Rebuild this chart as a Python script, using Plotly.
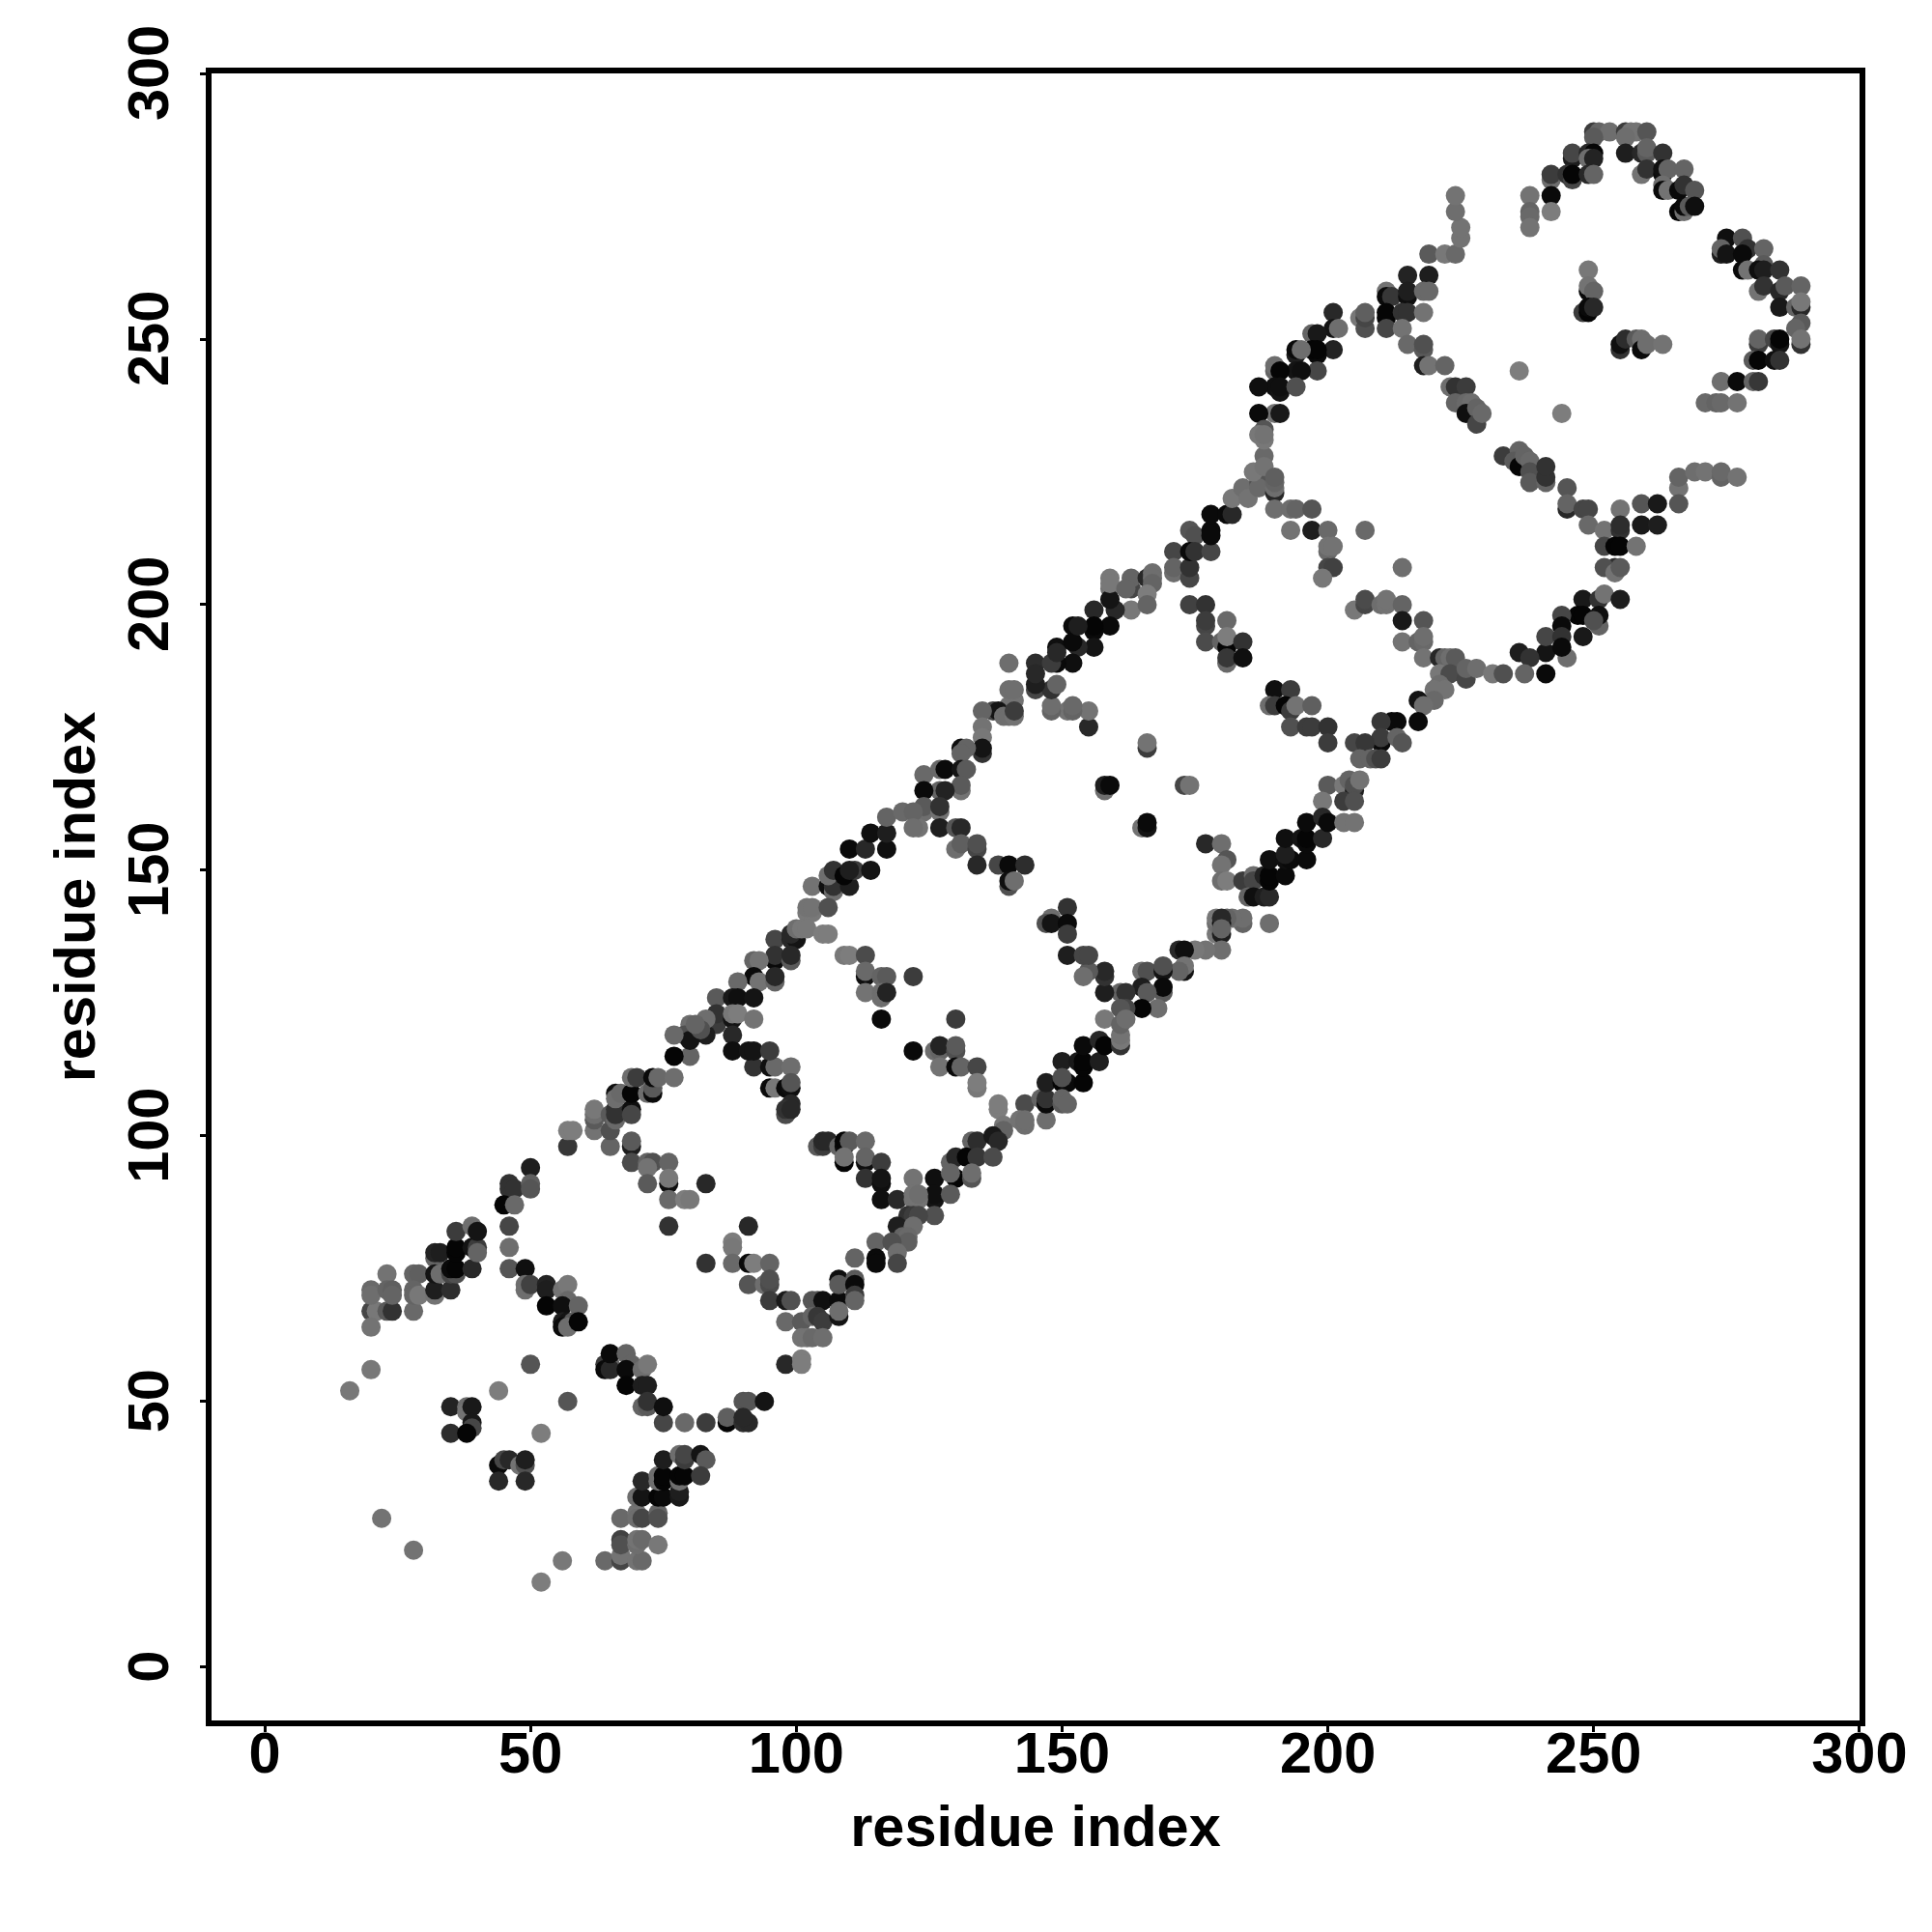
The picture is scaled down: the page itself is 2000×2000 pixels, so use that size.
import plotly.graph_objects as go

# Residue contacts: each line holds ten values, the three lists run in parallel.
residue_i = [
16,20,20,21,23,24,20,20,20,23,
23,24,24,28,28,29,28,28,29,32,
32,35,32,32,33,32,33,35,36,35,
36,36,36,39,39,40,40,36,39,40,
46,46,49,49,49,50,53,53,53,56,
57,57,56,59,56,57,58,56,57,59,
83,50,44,35,38,38,39,39,39,35,
38,52,57,44,45,46,48,49,49,44,
49,22,28,52,56,64,67,67,70,71,
67,67,70,70,71,74,67,70,70,71,
74,74,70,71,71,74,75,74,74,75,
75,75,78,78,78,78,79,78,79,79,
82,83,82,75,79,83,65,64,64,65,
65,68,69,68,71,72,68,71,72,71,
72,72,75,50,46,46,47,50,50,45,
47,46,57,57,58,62,62,62,62,65,
65,65,66,66,66,66,66,67,69,69,
69,69,70,72,73,73,73,74,77,69,
69,69,72,73,76,72,72,76,76,76,
79,80,83,76,91,88,88,88,91,92,
95,91,94,95,95,95,98,99,98,101,
103,104,105,103,104,105,108,108,108,108,
108,111,111,111,111,111,101,102,103,105,
98,101,101,87,87,90,91,94,90,91,
90,92,95,96,99,95,96,98,99,99,
99,98,98,99,104,105,105,106,108,109,
109,110,109,109,113,113,113,113,103,106,
107,107,106,107,110,109,111,114,102,103,
102,103,106,96,99,100,99,100,101,102,
105,106,96,96,99,99,92,93,92,93,
96,96,89,85,88,89,92,85,85,83,
83,80,80,88,88,89,92,88,88,91,
92,95,80,77,79,80,77,82,81,109,
110,113,113,113,116,117,113,116,116,117,
122,116,130,122,126,127,127,130,130,127,
130,131,134,134,134,138,138,143,139,142,
143,143,138,139,133,134,137,138,147,146,
147,147,147,150,150,151,150,150,150,151,
154,153,154,154,154,157,157,158,161,161,
161,158,116,116,116,122,116,119,126,129,
130,130,129,132,134,137,133,133,126,126,
129,122,123,122,123,126,121,122,123,119,
122,120,121,121,115,118,115,119,115,119,
140,141,140,141,137,138,135,139,140,141,
141,135,135,135,135,131,132,131,124,127,
128,131,132,131,131,127,128,124,124,124,
127,127,123,127,130,131,130,131,134,134,
134,138,140,143,140,140,141,155,155,151,
152,152,148,148,145,148,145,149,166,166,
158,158,159,173,174,165,166,166,177,180,
181,180,180,181,184,186,186,185,186,188,
189,188,189,189,189,192,192,193,196,192,
192,195,196,196,199,196,189,184,184,182,
181,179,179,179,180,180,180,180,180,177,
175,172,173,173,173,172,165,166,169,169,
169,169,165,166,168,165,161,162,158,158,
158,155,154,151,148,147,148,151,151,151,
154,155,162,161,161,162,159,159,163,163,
166,167,167,167,166,163,166,160,159,159,
171,171,171,174,174,174,175,174,175,178,
178,178,178,181,182,182,184,185,187,187,
187,186,188,188,188,190,190,190,190,190,
193,194,197,193,197,200,207,200,200,201,
200,201,199,214,174,177,177,177,181,177,
180,181,181,184,181,181,184,205,207,207,
210,211,211,214,214,218,214,217,218,218,
218,221,222,223,224,221,223,226,226,228,
231,221,220,222,220,217,218,217,213,212,
210,210,210,213,214,205,207,206,208,209,
210,200,203,204,205,205,206,199,203,205,
199,200,203,205,190,193,189,190,192,193,
194,197,193,196,197,200,200,
219,222,224,225,225,224,224,215,219,211,
211,212,215,215,218,219,211,211,211,214,
215,218,214,206,207,207,207,201,201,202,
197,198,201,198,197,198,194,194,195,198,
194,195,190,190,191,190,191,191,194,187,
190,191,187,188,187,188,215,218,218,218,
219,222,223,224,226,224,226,227,226,228,
228,229,236,244,249,249,249,250,248,249,
249,250,255,255,256,258,259,259,260,263,
233,236,235,236,237,238,238,238,241,241,
241,245,245,245,248,249,249,252,255,259,
255,255,259,252,254,255,258,254,252,254,
255,248,251,252,255,251,251,247,248,244,
244,236,241,241,244,245,238,244,248,250,
233,237,241,
250,251,253,256,257,258,260,
250,256,246,246,249,250,249,250,256,259,
260,260,263,242,242,245,246,246,249,250,
259,260,263,263,264,267,263,263,264,266,
267,269,266,267,267,268,269,238,238,238,
238,242,242,275,278,274,274,275,279,278,
282,278,279,282,281,282,285,281,282,285,
286,289,285,288,289,289,289,288,289,289,
281,281,284,285,285,280,281,284,285,274,
277,280,281,271,273,274,277,266,266,269,
271,274,274,277,266,262,262,
110,110,113,114,117,117,117,120,122,122,
156,156,156,152,156,153,149,152,149,145,
140,152,153,159,148,149,145,162,
]
residue_j = [
52,56,67,67,67,67,64,71,70,74,
71,71,70,67,74,74,71,70,70,70,
71,71,77,78,78,74,74,74,74,75,
75,78,79,75,79,79,78,82,83,82,
79,75,75,72,71,72,72,71,68,71,
72,69,68,68,65,65,65,64,64,65,
76,57,52,49,49,48,49,46,45,44,
44,44,50,38,39,39,38,38,39,35,
35,28,22,16,20,20,20,21,20,20,
24,23,23,24,24,23,28,29,28,28,
29,28,32,32,35,32,32,35,36,35,
36,39,32,33,35,36,36,40,39,40,
40,39,36,46,46,46,57,57,56,56,
59,59,57,56,56,57,53,53,53,49,
49,50,49,94,91,90,90,91,90,87,
87,83,98,101,101,101,103,104,105,98,
101,104,103,105,104,108,107,108,105,104,
108,111,111,108,108,109,111,111,111,98,
99,95,95,95,95,94,91,91,92,88,
88,88,91,83,83,80,79,76,76,76,
76,72,72,72,73,69,69,69,65,65,
69,69,69,66,66,65,69,73,72,66,
67,77,73,72,70,69,62,62,62,62,
57,58,57,46,47,50,50,50,46,46,
47,113,113,113,113,109,109,109,109,110,
106,104,105,105,98,98,99,99,98,98,
99,99,95,96,99,95,96,92,147,147,
146,147,149,150,147,149,150,150,142,142,
143,143,143,137,137,137,138,139,139,139,
138,138,133,134,133,134,133,133,130,129,
129,130,129,126,126,126,126,121,123,119,
122,119,121,122,123,123,122,119,116,116,
116,116,115,115,119,118,119,120,121,134,
134,134,130,131,130,130,127,127,126,127,
130,122,122,116,116,116,117,116,117,113,
113,113,113,109,110,105,106,106,102,103,
102,103,100,101,99,99,100,99,103,107,
106,107,110,114,110,110,111,106,107,106,
110,114,113,114,117,114,118,117,117,118,
119,122,95,91,92,92,88,88,92,95,
96,92,93,96,96,96,92,93,88,89,
89,88,88,89,89,85,85,85,85,83,
83,81,81,80,80,80,77,78,76,76,
181,182,184,184,180,180,180,179,179,179,
180,177,175,172,173,173,173,172,168,169,
169,169,169,165,166,165,165,165,161,162,
161,162,158,158,158,158,154,155,154,155,
151,151,151,151,147,148,148,177,180,180,
180,181,180,181,184,184,185,185,173,174,
165,166,166,166,166,158,158,159,155,155,
152,151,148,148,148,149,148,145,145,145,
145,149,148,149,152,149,152,152,152,153,
156,156,155,156,156,159,140,140,141,141,
141,138,140,141,138,140,141,139,135,135,
135,135,135,131,132,131,131,131,131,132,
127,128,128,127,124,124,127,127,127,130,
131,131,130,143,141,140,140,140,138,134,
134,134,124,124,121,122,205,203,203,205,
205,206,205,204,202,199,200,199,201,196,
210,206,207,205,207,214,213,210,210,210,
214,213,217,217,217,220,222,220,223,224,
222,225,228,226,231,221,222,223,224,218,
218,218,218,214,214,214,214,210,211,211,
207,207,205,207,200,200,196,197,197,193,
193,192,194,193,189,190,190,199,200,201,
200,200,201,200,197,197,193,193,193,194,
190,190,190,190,190,187,187,186,188,188,
187,185,184,184,182,182,181,178,178,178,
178,174,175,175,174,174,174,171,171,171,
171,166,166,167,165,166,167,163,163,163,
160,159,159,159,184,184,181,181,181,180,
181,181,177,177,177,177,174,
266,266,266,269,271,274,277,262,262,259,
258,258,258,259,259,259,254,255,252,255,
255,255,252,254,252,254,255,255,252,252,
251,251,248,247,248,248,247,248,248,244,
244,244,244,245,244,241,240,241,241,241,
236,236,236,233,232,232,249,248,249,245,
245,245,241,241,241,238,238,238,236,237,
234,236,244,236,263,259,260,259,255,255,
256,256,248,249,250,250,250,248,249,249,
228,229,227,226,228,227,225,223,223,224,
226,222,218,219,218,218,215,214,218,219,
214,215,215,211,211,211,211,207,207,206,
207,201,201,202,201,196,198,198,198,198,
196,191,191,194,194,190,190,192,194,197,
187,187,187,
289,289,289,289,289,289,289,
288,288,284,285,285,285,284,284,285,285,
285,286,285,280,281,281,280,281,281,281,
281,282,281,282,282,282,279,278,278,278,
279,278,274,274,275,275,275,277,274,273,
271,277,274,269,269,266,267,266,267,266,
267,263,263,264,263,263,263,259,260,259,
260,260,256,256,256,257,253,252,249,250,
249,250,250,249,250,246,246,246,246,242,
242,242,242,238,238,238,238,222,224,225,
225,224,225,224,219,219,215,
150,154,154,157,154,157,160,161,161,158,
199,195,196,196,192,192,192,189,189,189,
189,193,196,204,189,191,187,203,
]
gray_level = [
120,120,70,120,90,50,115,105,110,115,
100,95,100,105,100,95,100,100,120,115,
30,45,100,35,30,20,110,70,80,10,
5,5,5,40,20,60,100,60,110,20,
110,85,15,110,110,65,35,30,5,115,
120,105,15,100,30,20,90,10,110,5,
50,85,125,35,110,115,25,25,70,45,
5,125,85,10,70,40,115,80,30,40,
40,115,115,125,120,105,70,115,115,105,
65,80,110,115,105,120,105,115,110,70,
100,80,110,20,40,5,10,110,110,5,
5,30,25,30,110,5,5,110,60,70,
20,90,60,70,105,60,100,60,10,40,
10,100,100,10,110,120,5,30,30,100,
90,50,15,30,50,50,50,95,85,5,
105,70,55,125,125,115,90,110,120,100,
80,90,105,50,50,15,110,105,15,70,
5,110,60,110,10,90,10,105,110,30,
90,75,100,80,100,115,90,15,120,105,
125,120,40,50,40,125,120,105,10,125,
100,85,110,75,80,60,25,80,105,90,
85,85,15,100,55,60,10,15,90,20,
110,100,90,10,60,100,115,115,105,110,
40,125,125,5,95,85,85,20,45,40,
40,50,15,105,110,10,120,10,15,85,
40,75,50,40,90,60,40,40,100,10,
5,90,5,115,105,15,100,50,115,15,
110,50,110,50,30,5,60,20,120,120,
115,115,80,70,40,20,40,110,120,120,
125,125,10,50,90,40,100,115,10,115,
100,40,105,90,25,15,20,60,50,30,
110,115,110,20,120,125,115,40,15,20,
20,60,100,5,80,20,105,80,100,120,
125,75,15,105,100,90,115,110,110,35,
60,10,60,10,110,100,35,80,90,115,
10,100,70,120,125,125,125,75,120,115,
110,110,120,100,100,45,25,40,110,100,
10,50,30,30,5,10,80,90,100,100,
5,25,5,5,10,30,40,5,50,120,
115,120,60,15,20,115,15,40,15,100,
40,5,100,5,55,75,85,110,20,15,
90,115,115,115,110,80,50,60,70,30,
110,100,105,95,100,80,10,110,10,70,
115,115,110,110,70,20,100,110,110,115,
60,115,120,50,20,15,100,100,105,105,
10,20,90,115,90,100,35,10,110,90,
115,50,115,30,85,40,110,95,70,80,
40,70,10,45,80,15,110,40,115,115,
100,105,100,110,70,50,30,100,60,115,
110,30,10,70,115,115,20,10,40,110,
85,115,110,125,60,110,70,100,15,30,
40,35,5,5,15,10,15,10,10,30,
15,20,10,5,40,10,110,100,110,110,
100,120,110,120,30,10,40,100,110,115,
120,40,15,20,115,100,110,80,20,80,
90,10,30,90,110,5,100,50,30,50,
40,90,110,50,110,80,20,10,60,30,
70,70,70,85,100,110,120,115,70,100,
40,110,110,100,125,120,100,40,20,10,
70,110,100,70,50,85,80,10,50,70,
10,10,10,10,40,120,110,115,85,85,
105,120,105,115,120,40,110,100,95,110,
110,100,85,115,30,105,105,105,115,115,
70,65,120,110,65,50,70,60,105,75,
100,5,125,50,105,55,15,120,70,75,
110,115,115,100,25,85,115,100,105,110,
115,40,100,110,90,120,75,70,100,110,
120,110,115,115,105,20,110,10,10,10,
55,10,60,100,85,70,55,100,100,80,
60,90,120,100,30,80,115,120,60,80,
40,10,115,115,15,60,110,60,5,60,
115,95,80,60,60,50,60,
90,120,105,115,115,110,115,35,30,115,
10,55,15,30,105,105,5,5,70,50,
50,115,115,120,80,70,95,40,20,110,
100,25,35,10,5,5,30,10,110,70,
20,15,100,110,5,15,20,15,80,15,
115,25,10,85,120,115,105,90,80,30,
115,100,110,50,60,100,105,110,15,100,
70,105,125,125,120,10,115,100,60,5,
10,40,50,15,45,90,110,10,110,115,
60,100,90,5,100,105,80,90,100,50,
50,85,40,100,70,70,105,115,115,85,
50,45,25,70,5,5,115,45,80,115,
90,25,50,115,30,100,15,5,5,70,
10,30,20,70,50,110,50,10,25,80,
80,100,10,
60,100,110,60,115,115,85,
90,110,30,70,40,5,110,35,30,40,
90,100,50,110,60,50,70,5,40,100,
115,50,10,15,100,100,110,10,115,10,
50,85,5,110,10,90,15,115,100,105,
115,10,125,15,80,30,100,20,50,10,
100,10,115,90,15,30,50,115,50,40,
90,100,25,100,40,120,90,100,50,115,
60,100,70,20,5,90,5,15,50,110,
10,100,55,105,100,105,115,115,100,110,
115,100,105,115,85,25,30,
30,10,40,15,15,30,100,105,100,110,
40,10,5,10,20,40,15,15,10,45,
110,10,30,120,60,40,40,100,
]

tick_values = [0, 50, 100, 150, 200, 250, 300]
axis_title = "residue index"
x_limits = [-10, 300.02]
y_limits = [-10.05, 300.02]

assert len(residue_i) == len(residue_j) == len(gray_level), (len(residue_i), len(residue_j), len(gray_level))
colors = [f"rgb({g},{g},{g})" for g in gray_level]

font = dict(family="Liberation Sans", size=59.5, color="black", weight=700)

fig = go.Figure(
    go.Scatter(
        x=residue_i, y=residue_j, mode="markers",
        marker=dict(size=20, color=colors, line=dict(width=0)),
        hoverinfo="x+y",
    )
)
axis_style = dict(
    tickmode="array", tickvals=tick_values,
    showgrid=False, zeroline=False, showline=True, mirror=True,
    linecolor="black", linewidth=6, ticks="outside", ticklen=6, tickwidth=3,
    tickcolor="black", tickfont=font,
)
fig.update_xaxes(range=x_limits, ticklabelstandoff=-29,
                 ticktext=[str(t) for t in tick_values],
                 title=dict(text=axis_title, font=font, standoff=24), **axis_style)
# A trailing no-break space centres the rotated digits on their ticks.
fig.update_yaxes(range=y_limits, tickangle=-90, ticklabelstandoff=9,
                 ticktext=[f"{t}\u00a0" for t in tick_values],
                 title=dict(text=axis_title, font=font, standoff=4), **axis_style)
fig.update_layout(
    width=2000, height=2000, showlegend=False,
    paper_bgcolor="white", plot_bgcolor="white",
    margin=dict(l=211, r=83, t=68, b=227, autoexpand=False),
)
fig.write_html("out.html")
